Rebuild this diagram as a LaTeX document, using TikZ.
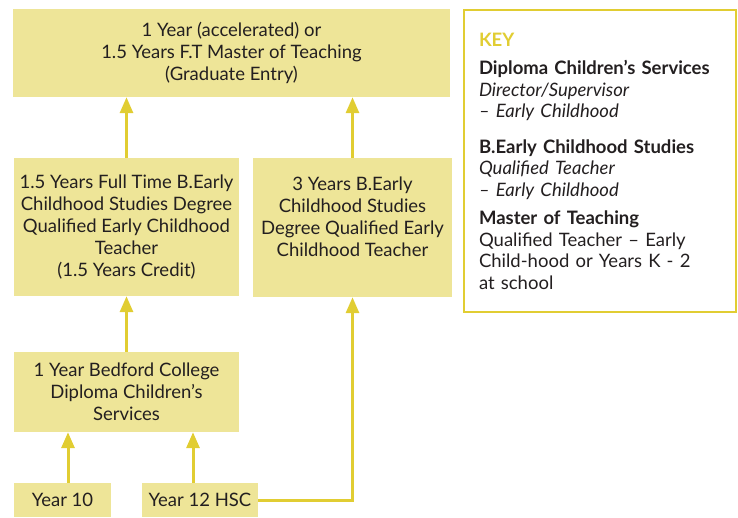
\documentclass[tikz,border=0pt]{standalone}
\usepackage{fontspec}
\setmainfont{Lato}
\usepackage{xcolor}
\usetikzlibrary{arrows.meta}

\definecolor{boxfill}{RGB}{238,229,152}
\definecolor{pathyellow}{RGB}{225,205,50}
\definecolor{inkgray}{RGB}{35,31,32}

\tikzset{
  stagebox/.style={fill=boxfill, text=inkgray, align=center, inner sep=0pt,
    font=\fontsize{18.5}{22}\selectfont},
  uparrow/.style={pathyellow, line width=3pt, -{Triangle[width=13pt,length=16pt]}},
}

\begin{document}
\begin{tikzpicture}[x=1pt, y=-1pt]

\useasboundingbox (0,0) rectangle (738,517);

% study boxes
\node[stagebox, minimum width=437pt, minimum height=88pt] (mteach) at (231.5,53)
  {1 Year (accelerated) or\\1.5 Years F.T Master of Teaching\\(Graduate Entry)};
\node[stagebox, minimum width=225pt, minimum height=138pt] (becsp) at (126.5,227)
  {1.5 Years Full Time B.Early\\Childhood Studies Degree\\Qualified Early Childhood\\Teacher\\(1.5 Years Credit)};
\node[stagebox, minimum width=199pt, minimum height=139pt] (becs) at (352.5,227.5)
  {3 Years B.Early\\Childhood Studies\\Degree Qualified Early\\Childhood Teacher\\ \mbox{}};
\node[stagebox, minimum width=225pt, minimum height=80pt] (dipl) at (126.5,392)
  {1 Year Bedford College\\Diploma Children's\\Services};
\node[stagebox, minimum width=97pt, minimum height=34pt] (yr10) at (62.5,500) {Year 10};
\node[stagebox, minimum width=116pt, minimum height=34pt] (yr12) at (200,500) {Year 12 HSC};

% pathways
\draw[uparrow] (becsp.north) -- (becsp.north |- mteach.south);
\draw[uparrow] (becs.north) -- (becs.north |- mteach.south);
\draw[uparrow] (dipl.north) -- (becsp.south);
\draw[uparrow] ([xshift=5.5pt]yr10.north) -- ([xshift=5.5pt]yr10.north |- dipl.south);
\draw[uparrow] ([xshift=-7pt]yr12.north) -- ([xshift=-7pt]yr12.north |- dipl.south);
\draw[uparrow] (yr12.east) -| (becs.south);

% key
\node[draw=pathyellow, line width=2pt, fill=white, text=inkgray, align=left,
  text width=242pt, minimum width=272pt, minimum height=302pt, inner xsep=15pt,
  font=\fontsize{18.5}{21.5}\selectfont] (key) at (600,161)
  {{\color{pathyellow}\bfseries KEY}\\[7pt]
   \textbf{Diploma Children's Services}\\
   \textit{Director/Supervisor}\\
   \textit{-- Early Childhood}\\[14pt]
   \textbf{B.Early Childhood Studies}\\
   \textit{Qualified Teacher}\\
   \textit{-- Early Childhood}\\[7pt]
   \textbf{Master of Teaching}\\
   Qualified Teacher -- Early\\
   Child-hood or Years K - 2\\
   at school};

\end{tikzpicture}
\end{document}
